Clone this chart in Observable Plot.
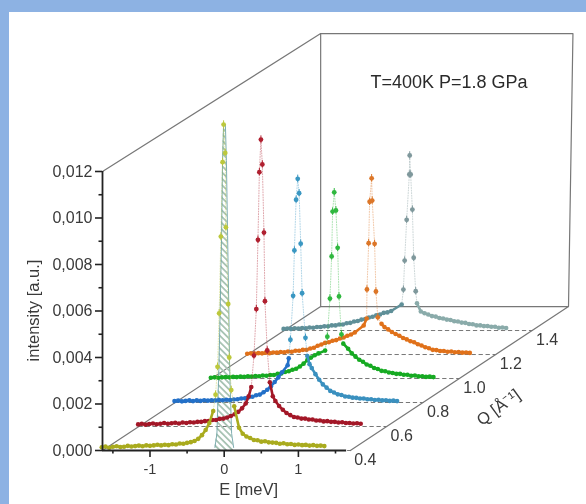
<!DOCTYPE html>
<html><head><meta charset="utf-8">
<style>
html,body{margin:0;padding:0;background:#8DB2E3;width:586px;height:504px;overflow:hidden}
#panel{position:absolute;left:9px;top:12px;right:0;bottom:0;background:#fff}
#chart{position:absolute;left:0;top:0}
#chart svg{display:block;filter:blur(0.55px)}
</style>
<script src="https://cdn.jsdelivr.net/npm/d3@7"></script>
<script src="https://cdn.jsdelivr.net/npm/@observablehq/plot@0.6"></script>
</head><body><div id="panel"></div><div id="chart"></div>
<script>
const title = "T=400K P=1.8 GPa";
const qValues = [0.4, 0.6, 0.8, 1.0, 1.2, 1.4];
const leftColors = ["#a9ab1e", "#a31727", "#2370c8", "#16aa22", "#e0711a", "#5f8f98"];
const rightColors = ["#a9ab1e", "#a31727", "#3a90bf", "#16aa22", "#e0711a", "#8aabaa"];
const peakColors = ["#bcc83c", "#b02030", "#3a97c2", "#2fb83f", "#dc7628", "#7f989c"];
const bandLimits = [0.0021, 0.0021, 0.0021, 0.0016, 0.0016, 0.0013];
const eTicksMajor = [-1, 0, 1];
const eTicksMinor = [-1.5, -0.5, 0.5, 1.5];
const iTicksMajor = [0, 0.002, 0.004, 0.006, 0.008, 0.01, 0.012];
const iTicksMinor = [0.001, 0.003, 0.005, 0.007, 0.009, 0.011];

const tailELeft = [-1.65,-1.60,-1.55,-1.50,-1.45,-1.40,-1.35,-1.30,-1.25,-1.20,-1.15,-1.10,-1.05,-1.00,-0.95,-0.90,-0.85,-0.80,-0.75,-0.70,-0.65,-0.60,-0.55,-0.50,-0.45,-0.40,-0.35,-0.30,-0.25,-0.20];
const tailERight = [0.20,0.25,0.30,0.35,0.40,0.45,0.50,0.55,0.60,0.65,0.70,0.75,0.80,0.85,0.90,0.95,1.00,1.05,1.10,1.15,1.20,1.25,1.30,1.35];

const leftQ04 = [.00014,.00017,.00012,.00016,.00018,.00015,.00016,.00020,.00017,.00019,.00021,.00018,.00022,.00020,.00022,.00025,.00022,.00025,.00023,.00027,.00026,.00030,.00029,.00033,.00036,.00041,.00050,.00066,.00088,.00118];
const peakEQ04 = [-.148,-.116,-.09,-.068,-.045,-.022,-.008,.014,.023,.054,.068,.095,.135];
const peakIQ04 = [.0017,.0024,.0036,.0059,.0092,.0124,.01402,.0128,.0096,.0063,.004,.0026,.0019];
const rightQ04 = [.00098,.00072,.00060,.00054,.00045,.00044,.00038,.00040,.00035,.00034,.00033,.00029,.00031,.00027,.00028,.00024,.00026,.00023,.00024,.00021,.00023,.00020,.00021,.00019];

const leftQ06 = [.00009,.00012,.00008,.00011,.00013,.00010,.00012,.00015,.00012,.00014,.00016,.00013,.00017,.00015,.00018,.00017,.00020,.00020,.00023,.00024,.00028,.00028,.00033,.00034,.00039,.00045,.00053,.00063,.00078,.00099];
const peakEQ06 = [-.16,-.125,-.089,-.057,-.035,-.016,.005,.024,.046,.059,.09,.125,.165];
const peakIQ06 = [.0013,.0017,.00305,.00505,.00803,.01094,.01234,.01127,.00834,.00539,.00327,.0019,.0013];
const rightQ06 = [.00110,.00088,.00072,.00058,.00049,.00041,.00039,.00034,.00034,.00030,.00030,.00026,.00026,.00022,.00023,.00020,.00020,.00017,.00018,.00015,.00015,.00013,.00014,.00012];

const leftQ08 = [.00006,.00008,.00005,.00007,.00009,.00006,.00009,.00007,.00010,.00008,.00010,.00009,.00011,.00010,.00012,.00011,.00013,.00014,.00017,.00018,.00023,.00025,.00031,.00034,.00044,.00055,.00070,.00088,.00108,.00130];
const peakEQ08 = [-.125,-.11,-.088,-.051,-.034,-.011,.011,.03,.051,.07,.115,.14,.17];
const peakIQ08 = [.0016,.0019,.0027,.00459,.00654,.00872,.00962,.009,.00683,.0047,.00278,.002,.00165];
const rightQ08 = [.00148,.00122,.00098,.00078,.00064,.00050,.00043,.00035,.00032,.00026,.00025,.00021,.00020,.00017,.00017,.00014,.00014,.00011,.00012,.00009,.00010,.00007,.00008,.00006];

const leftQ10 = [.00003,.00005,.00003,.00005,.00006,.00005,.00007,.00006,.00008,.00007,.00010,.00008,.00011,.00010,.00013,.00012,.00015,.00015,.00020,.00022,.00028,.00031,.00038,.00042,.00052,.00064,.00079,.00090,.00100,.00108];
const peakEQ10 = [-.11,-.08,-.045,-.022,-.009,.013,.036,.059,.077,.11,.135];
const peakIQ10 = [.0012,.0018,.00344,.00525,.00718,.00801,.00723,.00562,.00353,.0019,.0015];
const rightQ10 = [.00128,.00108,.00094,.00081,.00072,.00060,.00055,.00045,.00041,.00033,.00031,.00026,.00024,.00020,.00020,.00016,.00016,.00012,.00013,.00009,.00010,.00007,.00008,.00006];

const leftQ12 = [.00003,.00005,.00004,.00006,.00005,.00008,.00006,.00009,.00008,.00011,.00010,.00013,.00012,.00016,.00016,.00020,.00020,.00026,.00029,.00038,.00043,.00050,.00053,.00059,.00062,.00069,.00073,.00081,.00086,.00095];
const peakEQ12 = [-.08,-.04,-.036,-.013,0,.027,.035,.067,.085,.11,.16];
const peakIQ12 = [.00125,.00155,.0028,.00479,.00657,.00758,.00662,.00476,.00271,.0016,.00132];
const rightQ12 = [.00118,.00108,.00097,.00088,.00081,.00071,.00065,.00057,.00053,.00044,.00039,.00031,.00027,.00020,.00019,.00015,.00015,.00012,.00013,.00010,.00011,.00008,.00009,.00007];

const leftQ14 = [.00007,.00009,.00007,.00010,.00008,.00011,.00010,.00013,.00012,.00015,.00015,.00018,.00018,.00022,.00022,.00026,.00026,.00031,.00033,.00039,.00041,.00047,.00049,.00056,.00059,.00066,.00069,.00076,.00078,.00084];
const peakEQ14 = [-.058,-.035,-.018,.009,.045,.05,.063,.086,.104,.131,.148];
const peakIQ14 = [.00112,.00176,.00301,.00476,.00671,.00753,.00671,.0052,.00313,.00169,.00117];
const rightQ14 = [.00082,.00074,.00069,.00062,.00060,.00054,.00052,.00047,.00045,.00040,.00039,.00034,.00033,.00028,.00027,.00022,.00022,.00019,.00019,.00016,.00016,.00012,.00013,.00011];

const fitE = [-.125,-.098,-.071,-.054,-.035,-.022,-.008,.016,.03,.046,.063,.073,.1,.127];
const fitI = [.00013,.00073,.00357,.00602,.00925,.01247,.01402,.01402,.01247,.00925,.00602,.00357,.00073,.00013];

const eMin = -1.64, eMax = 1.70;
const qMin = 0.4, qMax = 1.6;
const wallTop = 0.01174, axisTop = 0.012;
const errBar = 0.00016;
const shearE = 2.45, shearI = 0.00516;

const px = d => d.E + (d.Q - qMin) * shearE;
const py = d => d.I + (d.Q - qMin) * shearI;

const peaksE = [peakEQ04, peakEQ06, peakEQ08, peakEQ10, peakEQ12, peakEQ14];
const peaksI = [peakIQ04, peakIQ06, peakIQ08, peakIQ10, peakIQ12, peakIQ14];
const lefts = [leftQ04, leftQ06, leftQ08, leftQ10, leftQ12, leftQ14];
const rights = [rightQ04, rightQ06, rightQ08, rightQ10, rightQ12, rightQ14];
const seriesRows = qValues.map((Q, k) => {
  const E = [...tailELeft, ...peaksE[k], ...tailERight];
  const I = [...lefts[k], ...peaksI[k], ...rights[k]];
  return E.map((e, i) => ({E: e, I: I[i], Q}));
});

const frameLines = [
  [{E:eMin,I:0,Q:qMin},{E:eMin,I:0,Q:qMax},{E:eMax,I:0,Q:qMax},{E:eMax,I:0,Q:qMin}],
  [{E:eMin,I:axisTop,Q:qMin},{E:eMin,I:wallTop,Q:qMax},{E:eMax+0.06,I:wallTop,Q:qMax},{E:eMax,I:0,Q:qMax}],
  [{E:eMin,I:0,Q:qMax},{E:eMin,I:wallTop,Q:qMax}]
];

const marks = [];
for (const f of frameLines) marks.push(Plot.line(f, {x: px, y: py, stroke: "#777", strokeWidth: 1.2}));
for (const Q of qValues) {
  marks.push(Plot.line([{E:eMin,I:0,Q},{E:eMax,I:0,Q}], {x: px, y: py, stroke: "#777", strokeWidth: 1, strokeDasharray: "3.5,3.5"}));
}
const fit = fitE.map((e, i) => ({E: e, I: fitI[i]}));
marks.push(Plot.areaY(fit, {x: "E", y: "I", fill: "url(#hatch)"}));
marks.push(Plot.line(fit, {x: "E", y: "I", stroke: "#6fa5a8", strokeWidth: 0.9}));

for (let k = qValues.length - 1; k >= 0; k--) {
  const rows = seriesRows[k];
  const top = d3.greatestIndex(rows, d => d.I);
  const leftBand = rows.slice(0, top).filter(d => d.I < bandLimits[k]);
  const rightBand = rows.slice(top + 1).filter(d => d.I < bandLimits[k]);
  const peak = rows.filter(d => d.I >= bandLimits[k]);
  const c = peakColors[k];
  marks.push(Plot.line(rows, {x: px, y: py, stroke: c, strokeWidth: 0.8, strokeOpacity: 0.5, strokeDasharray: "1,1.6"}));
  marks.push(Plot.line(leftBand, {x: px, y: py, stroke: leftColors[k], strokeWidth: 2.6, strokeLinecap: "round", strokeLinejoin: "round"}));
  marks.push(Plot.line(rightBand, {x: px, y: py, stroke: rightColors[k], strokeWidth: 2.6, strokeLinecap: "round", strokeLinejoin: "round"}));
  marks.push(Plot.dot(leftBand, {x: px, y: py, r: 2.3, fill: leftColors[k], stroke: "none"}));
  marks.push(Plot.dot(rightBand, {x: px, y: py, r: 2.3, fill: rightColors[k], stroke: "none"}));
  marks.push(Plot.ruleX(peak, {x: px, y1: d => py(d) - errBar, y2: d => py(d) + errBar, stroke: c, strokeWidth: 1}));
  marks.push(Plot.dot(peak, {x: px, y: py, r: 2.4, fill: c, stroke: "none"}));
}

marks.push(
  Plot.ruleX([eMin], {y1: 0, y2: axisTop, stroke: "#222", strokeWidth: 1.8}),
  Plot.ruleY([0], {x1: eMin, x2: eMax - 0.05, stroke: "#222", strokeWidth: 1.8}),
  Plot.axisY({ticks: iTicksMajor, tickSize: 7, tickPadding: 3, tickFormat: d => d3.format(".3f")(d).replace(".", ","), label: null, fontSize: 16, stroke: "#222", fill: "#3a3a3a", strokeWidth: 1.6, anchor: "left"}),
  Plot.axisY({ticks: iTicksMinor, tickSize: 3.5, tickFormat: () => "", label: null, stroke: "#222", strokeWidth: 1.6, anchor: "left"}),
  Plot.axisX({ticks: eTicksMajor, tickSize: 7, tickPadding: 6, tickFormat: d => d < 0 ? "-" + Math.abs(d) : String(d), label: null, fontSize: 14.5, stroke: "#222", fill: "#3a3a3a", strokeWidth: 1.6, anchor: "bottom"}),
  Plot.axisX({ticks: eTicksMinor, tickSize: 3.5, tickFormat: () => "", label: null, stroke: "#222", strokeWidth: 1.6, anchor: "bottom"}),
  Plot.text(qValues, {x: q => eMax + (q - qMin) * shearE, y: q => (q - qMin) * shearI, text: q => q.toFixed(1), dx: 15, dy: 9, fontSize: 16, fill: "#3a3a3a"}),
  Plot.text(["Q [Å⁻¹]"], {x: eMax + 0.6 * shearE, y: 0.6 * shearI, text: d => d, dx: 39, dy: 29, rotate: -36, fontSize: 16.5, fill: "#3a3a3a"}),
  Plot.text(["E [meV]"], {x: 0.33, y: -0.00168, text: d => d, fontSize: 16.5, fill: "#3a3a3a"}),
  Plot.text(["intensity [a.u.]"], {x: -2.565, y: 0.00602, text: d => d, rotate: -90, fontSize: 16.5, fill: "#3a3a3a"}),
  Plot.text([title], {x: 3.03, y: 0.01583, text: d => d, fontSize: 18, fill: "#2a2a2a"})
);

const plot = Plot.plot({
  width: 586, height: 504,
  marginLeft: 102, marginRight: 18, marginTop: 28, marginBottom: 54,
  style: {background: "transparent", fontFamily: "Liberation Sans, Arial, sans-serif"},
  x: {domain: [eMin, 4.64], axis: null},
  y: {domain: [0, 0.01815], axis: null},
  marks
});
plot.insertAdjacentHTML("afterbegin", '<defs><pattern id="hatch" width="4.5" height="4.5" patternUnits="userSpaceOnUse" patternTransform="rotate(45)"><rect width="4.5" height="1.8" fill="#a9c4b4"/></pattern></defs>');
document.getElementById("chart").append(plot);
</script></body></html>
